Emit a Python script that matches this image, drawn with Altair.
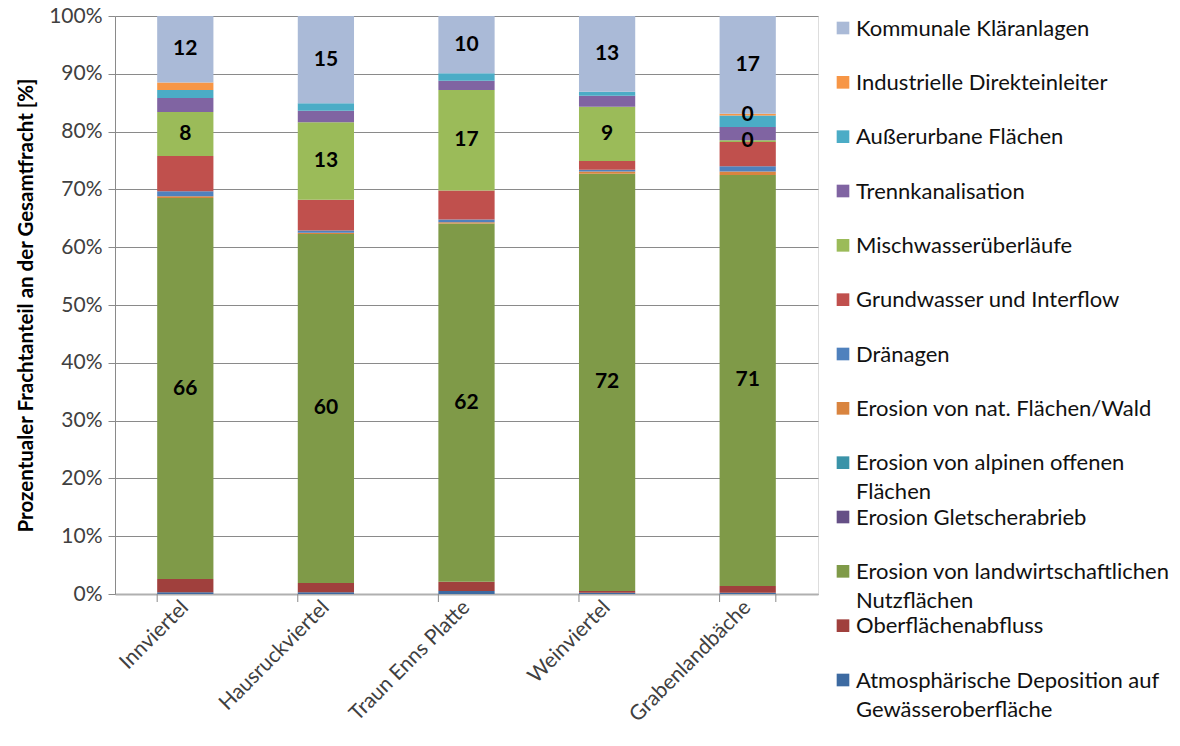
import altair as alt
import pandas as pd

regions = ["Innviertel", "Hausruckviertel", "Traun Enns Platte", "Weinviertel", "Grabenlandbäche"]

# Load sources, bottom of the stack first
sources = [
    "Atmosphärische Deposition auf Gewässeroberfläche",
    "Oberflächenabfluss",
    "Erosion von landwirtschaftlichen Nutzflächen",
    "Erosion Gletscherabrieb",
    "Erosion von alpinen offenen Flächen",
    "Erosion von nat. Flächen/Wald",
    "Dränagen",
    "Grundwasser und Interflow",
    "Mischwasserüberläufe",
    "Trennkanalisation",
    "Außerurbane Flächen",
    "Industrielle Direkteinleiter",
    "Kommunale Kläranlagen",
]

legend_text = [
    "Atmosphärische Deposition auf\nGewässeroberfläche",
    "Oberflächenabfluss",
    "Erosion von landwirtschaftlichen\nNutzflächen",
    "Erosion Gletscherabrieb",
    "Erosion von alpinen offenen\nFlächen",
    "Erosion von nat. Flächen/Wald",
    "Dränagen",
    "Grundwasser und Interflow",
    "Mischwasserüberläufe",
    "Trennkanalisation",
    "Außerurbane Flächen",
    "Industrielle Direkteinleiter",
    "Kommunale Kläranlagen",
]

colors = [
    "#3d6aa1", "#a0403d", "#7f9a48", "#654f86", "#3a93a8", "#d9843f", "#4f81bd",
    "#c0504d", "#9bbb59", "#8064a2", "#4bacc6", "#f79646", "#aabad7",
]

# Share of total load per region [%], same order as sources
atmos      = [0.3, 0.3, 0.5, 0.2, 0.2]
oberfl     = [2.3, 1.6, 1.6, 0.3, 1.2]
landw      = [65.9, 60.4, 62.0, 72.2, 71.1]
gletscher  = [0.0, 0.0, 0.0, 0.0, 0.0]
alpin      = [0.0, 0.0, 0.0, 0.0, 0.0]
wald       = [0.3, 0.2, 0.2, 0.4, 0.6]
draenagen  = [0.9, 0.4, 0.5, 0.3, 0.9]
grundw     = [6.1, 5.3, 5.0, 1.5, 4.2]
mischw     = [7.6, 13.4, 17.4, 9.4, 0.3]
trennk     = [2.4, 2.0, 1.6, 1.9, 2.3]
ausserurb  = [1.4, 1.3, 1.3, 0.7, 2.0]
industrie  = [1.3, 0.0, 0.0, 0.0, 0.3]
kommunal   = [11.5, 15.1, 9.9, 13.1, 16.9]

series = [atmos, oberfl, landw, gletscher, alpin, wald, draenagen,
          grundw, mischw, trennk, ausserurb, industrie, kommunal]

# Segments that carry a value label
labelled_sources = ["Erosion von landwirtschaftlichen Nutzflächen",
                    "Mischwasserüberläufe", "Kommunale Kläranlagen"]
labelled_extra = [("Industrielle Direkteinleiter", "Grabenlandbäche")]

rows = []
for i, (src, vals) in enumerate(zip(sources, series)):
    for reg, v in zip(regions, vals):
        rows.append({
            "region": reg, "source": src, "value": v, "order": i,
            "show": src in labelled_sources or (src, reg) in labelled_extra,
        })
df = pd.DataFrame(rows)

legend_df = pd.DataFrame({"source": sources, "text": legend_text})

W, H = 703, 578
FONT = "Lato"

color = alt.Color("source:N", scale=alt.Scale(domain=sources, range=colors), legend=None)
xenc = alt.X("region:N", sort=regions, title=None,
             scale=alt.Scale(paddingInner=0.6, paddingOuter=0.3),
             axis=alt.Axis(labelAngle=-45, labelAlign="right", labelBaseline="middle",
                           labelFontSize=21, labelColor="#404040", labelPadding=10,
                           ticks=False, domainColor="#b0b0b0", domainWidth=2,
                           labelFont=FONT))

base = (
    alt.Chart(df)
    .transform_stack(stack="value", groupby=["region"], as_=["v0", "v1"],
                     sort=[alt.SortField("order", order="ascending")])
    .transform_calculate(mid="(datum.v0 + datum.v1) / 2")
)

bars = base.mark_bar().encode(
    x=xenc,
    y=alt.Y("v0:Q", scale=alt.Scale(domain=[0, 100], nice=False),
            axis=alt.Axis(values=list(range(0, 101, 10)), labelExpr="datum.value + '%'",
                          title="Prozentualer Frachtanteil an der Gesamtfracht [%]",
                          titleFontSize=20.5, titleFontWeight="bold", titleColor="#000000",
                          titleFont=FONT, titlePadding=12,
                          labelFontSize=21, labelColor="#404040", labelFont=FONT,
                          labelPadding=6, tickSize=7, tickColor="#8a8a8a",
                          domainColor="#8a8a8a", gridColor="#8a8a8a")),
    y2="v1:Q",
    color=color,
)

labels = base.transform_filter("datum.show").mark_text(
    font=FONT, fontSize=21, fontWeight="bold", color="#000000", baseline="middle"
).encode(
    x=alt.X("region:N", sort=regions),
    y=alt.Y("mid:Q"),
    text=alt.Text("value:Q", format=".0f"),
)

# Category separator ticks below the x axis
tick_src = alt.Chart(pd.DataFrame({"region": regions}))
sep_ticks = tick_src.mark_rule(color="#8a8a8a").encode(
    x=alt.X("region:N", sort=regions, bandPosition=0),
    y=alt.value(H), y2=alt.value(H + 8),
)
end_tick = tick_src.transform_filter(f"datum.region == '{regions[-1]}'").mark_rule(
    color="#8a8a8a").encode(
    x=alt.X("region:N", sort=regions, bandPosition=1),
    y=alt.value(H), y2=alt.value(H + 8),
)

plot = alt.layer(bars, labels, sep_ticks, end_tick)

# Legend, top entry first
leg_y = alt.Y("source:N", sort=list(reversed(sources)), axis=None,
              scale=alt.Scale(type="point", range=[12, 664], padding=0))
leg_sq = alt.Chart(legend_df).mark_square(size=160, opacity=1).encode(
    x=alt.value(728), y=leg_y, color=color,
)
leg_txt = alt.Chart(legend_df).mark_text(
    font=FONT, fontSize=22, align="left", baseline="alphabetic", dy=7.5,
    lineBreak="\n", lineHeight=29, color="#111111",
).encode(x=alt.value(741), y=leg_y, text="text:N")

legend = alt.layer(leg_sq, leg_txt)

chart = (
    alt.layer(plot, legend)
    .resolve_scale(y="independent")
    .properties(
        width=W, height=H,
        autosize=alt.AutoSizeParams(type="none"),
        padding={"left": 115, "top": 16, "right": 1180 - 115 - W, "bottom": 746 - 16 - H},
    )
    .configure_view(stroke=None)
    .configure(font=FONT)
)

chart.save("out.html", embed_options={"renderer": "svg", "actions": False})
